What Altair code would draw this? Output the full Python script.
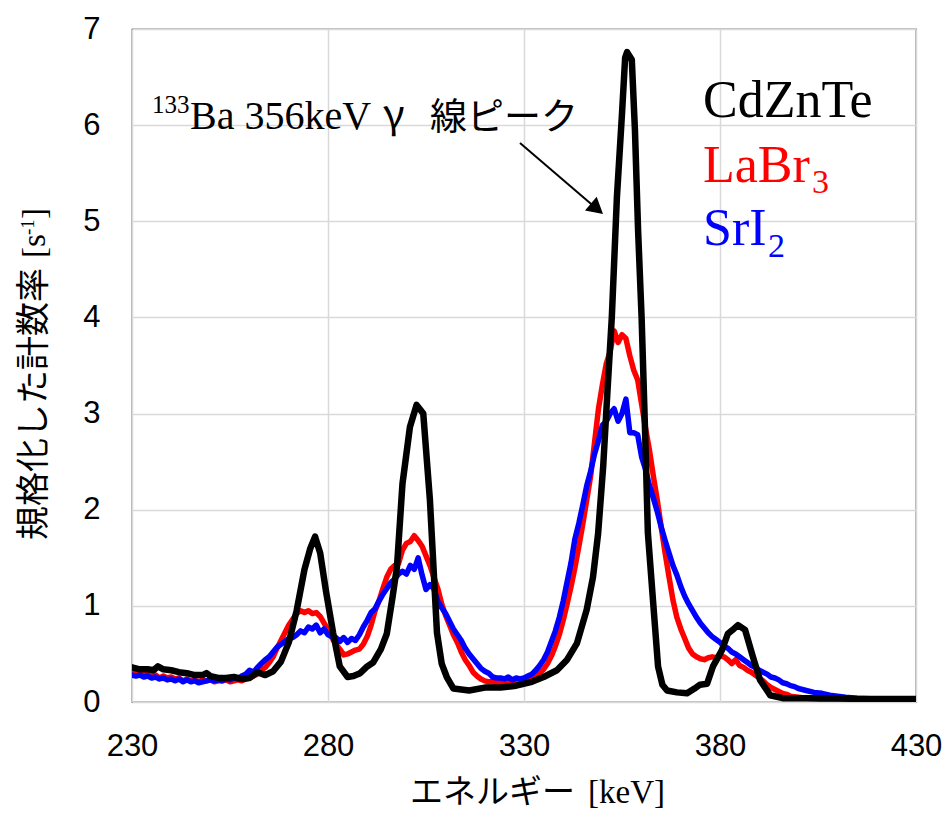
import altair as alt
import pandas as pd

# ---------------- data ----------------
# LaBr3 (red)
labr_energy = list(range(230, 399)) + [400, 402, 405, 410, 415, 420, 425, 430]
labr_rate = [
    0.30, 0.29, 0.31, 0.28, 0.29, 0.27, 0.28, 0.25, 0.27, 0.25,
    0.26, 0.24, 0.25, 0.22, 0.24, 0.22, 0.23, 0.21, 0.23, 0.22,
    0.23, 0.21, 0.22, 0.22, 0.23, 0.21, 0.22, 0.23, 0.22, 0.24,
    0.25, 0.27, 0.29, 0.33, 0.36, 0.41, 0.47, 0.56, 0.64, 0.72,
    0.80, 0.86, 0.92, 0.95, 0.93, 0.95, 0.92, 0.93, 0.89, 0.82,
    0.75, 0.67, 0.60, 0.55, 0.49, 0.50, 0.52, 0.54, 0.55, 0.60,
    0.68, 0.80, 0.95, 1.05, 1.18, 1.30, 1.38, 1.42, 1.44, 1.58,
    1.65, 1.67, 1.73, 1.68, 1.62, 1.52, 1.42, 1.30, 1.18, 1.02,
    0.90, 0.80, 0.70, 0.62, 0.52, 0.44, 0.38, 0.31, 0.27, 0.24,
    0.22, 0.21, 0.21, 0.20, 0.20, 0.21, 0.20, 0.21, 0.21, 0.22,
    0.22, 0.23, 0.24, 0.26, 0.30, 0.34, 0.40, 0.48, 0.58, 0.70,
    0.85, 1.02, 1.20, 1.40, 1.62, 1.85, 2.10, 2.35, 2.70, 3.05,
    3.30, 3.52, 3.65, 3.86, 3.74, 3.82, 3.78, 3.60, 3.45, 3.35,
    3.10, 2.85, 2.62, 2.35, 2.10, 1.82, 1.55, 1.30, 1.06, 0.88,
    0.76, 0.66, 0.56, 0.50, 0.47, 0.45, 0.44, 0.46, 0.47, 0.46,
    0.48, 0.47, 0.44, 0.40, 0.44, 0.38, 0.36, 0.33, 0.31, 0.28,
    0.25, 0.22, 0.18, 0.15, 0.13, 0.11, 0.09, 0.08, 0.06,
    0.05, 0.04, 0.03, 0.02, 0.02, 0.01, 0.01, 0.01,
]

# SrI2 (blue)
sri_energy = list(range(230, 400)) + [400, 402, 404, 406, 408, 410, 412, 415, 420, 425, 430]
sri_rate = [
    0.28, 0.27, 0.28, 0.26, 0.27, 0.25, 0.26, 0.24, 0.25, 0.23,
    0.24, 0.22, 0.24, 0.21, 0.23, 0.21, 0.22, 0.20, 0.21, 0.22,
    0.23, 0.22, 0.23, 0.22, 0.24, 0.23, 0.25, 0.24, 0.27, 0.29,
    0.33, 0.31, 0.36, 0.40, 0.44, 0.47, 0.52, 0.57, 0.60, 0.63,
    0.66, 0.67, 0.70, 0.74, 0.72, 0.78, 0.76, 0.80, 0.72, 0.76,
    0.70, 0.68, 0.67, 0.63, 0.67, 0.62, 0.66, 0.64, 0.70, 0.78,
    0.85, 0.93, 0.97, 1.05, 1.12, 1.18, 1.24, 1.28, 1.33, 1.36,
    1.33, 1.42, 1.38, 1.50, 1.32, 1.17, 1.22, 1.18, 1.05, 0.98,
    0.92, 0.84, 0.76, 0.70, 0.64, 0.56, 0.50, 0.45, 0.40, 0.35,
    0.32, 0.30, 0.26, 0.25, 0.25, 0.24, 0.26, 0.23, 0.25, 0.24,
    0.25, 0.27, 0.29, 0.33, 0.38, 0.44, 0.52, 0.63, 0.74, 0.88,
    1.05, 1.25, 1.45, 1.70, 1.86, 2.05, 2.25, 2.40, 2.58, 2.72,
    2.88, 2.92, 3.00, 3.05, 2.92, 3.00, 3.15, 2.80, 2.80, 2.78,
    2.55, 2.42, 2.25, 2.12, 1.98, 1.82, 1.68, 1.55, 1.42, 1.32,
    1.20, 1.10, 1.02, 0.95, 0.88, 0.82, 0.77, 0.72, 0.68, 0.65,
    0.62, 0.58, 0.56, 0.52, 0.50, 0.47, 0.44, 0.41, 0.38, 0.36,
    0.33, 0.31, 0.29, 0.26, 0.25, 0.23, 0.20, 0.19, 0.17, 0.16,
    0.14, 0.12, 0.10, 0.09, 0.07, 0.06, 0.05, 0.04, 0.03, 0.03, 0.03,
]

# CdZnTe (black)
czt_energy = [
    230, 232, 234, 235.5, 236.6, 238, 240, 242, 244, 246, 248, 249, 250, 252, 254,
    256, 258, 260, 262, 264, 266, 268, 270, 272, 274, 275.5, 276.7, 278, 279.5,
    281.3, 283, 285, 286.5, 288.2, 290, 291.5, 293.5, 295, 296.5, 297.6, 299,
    300.9, 302.6, 304.3, 306, 307.8, 309, 310.3, 312, 316, 320, 324, 328, 332,
    335, 338.4, 341, 343.5, 346, 347.6, 348.9, 350.2, 351.4, 352.4, 353.7, 355,
    355.8, 356.3, 357.5, 358.3, 359.1, 360.0, 360.9, 361.6, 362.9, 364.2, 365.3,
    366.5, 369, 371.6, 373.5, 374.9, 376.7, 378.2, 380.5, 382, 383.5, 384.6,
    386.4, 388.4, 390.2, 392.8, 396, 400, 405, 410, 415, 420, 425, 430,
]
czt_rate = [
    0.36, 0.34, 0.34, 0.33, 0.37, 0.34, 0.33, 0.31, 0.30, 0.28, 0.28, 0.30, 0.27, 0.25, 0.25,
    0.26, 0.24, 0.25, 0.31, 0.28, 0.32, 0.42, 0.62, 0.95, 1.38, 1.60, 1.72, 1.55, 1.15,
    0.72, 0.37, 0.26, 0.27, 0.30, 0.37, 0.41, 0.55, 0.71, 1.10, 1.41, 2.27,
    2.86, 3.09, 3.00, 2.10, 0.72, 0.40, 0.26, 0.14, 0.12, 0.15, 0.15, 0.17, 0.21,
    0.26, 0.33, 0.44, 0.61, 0.96, 1.30, 1.75, 2.45, 3.31, 4.00, 5.25, 6.12,
    6.70, 6.76, 6.68, 5.95, 4.91, 4.00, 2.80, 1.76, 1.06, 0.37, 0.18,
    0.12, 0.10, 0.09, 0.14, 0.18, 0.19, 0.37, 0.54, 0.71, 0.76, 0.80,
    0.75, 0.47, 0.23, 0.07, 0.04, 0.04, 0.04, 0.04, 0.03, 0.03, 0.03, 0.03,
]

# axis ticks
x_ticks = [230, 280, 330, 380, 430]
y_ticks = [0, 1, 2, 3, 4, 5, 6, 7]

# ---------------- chart ----------------
W, H = 784, 673

x_enc = alt.X(
    "E:Q",
    scale=alt.Scale(domain=[230, 430], nice=False, zero=False),
    axis=alt.Axis(
        values=x_ticks, title=None, labelFont="Liberation Sans", labelFontSize=31,
        labelColor="black", labelPadding=29, grid=True, gridColor="#d9d9d9",
        gridWidth=1.5, domain=False, ticks=False, labelFlush=False, format="d",
    ),
)
y_enc = alt.Y(
    "v:Q",
    scale=alt.Scale(domain=[0, 7], nice=False, zero=True),
    axis=alt.Axis(
        values=y_ticks, title=None, labelFont="Liberation Sans", labelFontSize=31,
        labelColor="black", labelPadding=32, grid=True, gridColor="#d9d9d9",
        gridWidth=1.5, domain=False, ticks=False, labelFlush=False, format="d",
    ),
)


def line_layer(energy, rate, color, width):
    df = pd.DataFrame({"E": energy, "v": rate})
    return alt.Chart(df).mark_line(
        color=color, strokeWidth=width, strokeJoin="round", strokeCap="round", clip=True
    ).encode(x=x_enc, y=y_enc)


dummy = pd.DataFrame({"t": [""]})


def txt(s, x, y, size, font, color="black", angle=None):
    kw = dict(align="left", baseline="alphabetic", font=font, fontSize=size, color=color)
    if angle is not None:
        kw["angle"] = angle
    return alt.Chart(pd.DataFrame({"t": [s]})).mark_text(**kw).encode(
        x=alt.value(x), y=alt.value(y), text="t:N"
    )


SERIF = "Liberation Serif"
CJK = "Noto Sans CJK JP"

layers = [
    line_layer(labr_energy, labr_rate, "#ff0000", 5.5),
    line_layer(sri_energy, sri_rate, "#0000ff", 5.5),
    line_layer(czt_energy, czt_rate, "#000000", 6.5),
    # annotation
    txt("133", 20, 84, 25, SERIF),
    txt("Ba 356keV", 58, 100, 40, SERIF),
    txt("γ", 251, 100, 40, CJK),
    txt("線ピーク", 298, 101, 37, CJK),
    alt.Chart(dummy).mark_rule(color="black", strokeWidth=2).encode(
        x=alt.value(388), y=alt.value(114), x2=alt.value(465), y2=alt.value(180)
    ),
    alt.Chart(dummy).mark_point(
        shape="M0,0L-1.6,-0.9L-1.6,0.9Z", filled=True, color="black",
        size=400, angle=40.5, opacity=1, strokeWidth=0,
    ).encode(x=alt.value(471), y=alt.value(185)),
    # legend texts
    txt("CdZnTe", 571, 88, 52, SERIF, "black"),
    txt("LaBr", 571, 153, 52, SERIF, "#ff0000"),
    txt("3", 680, 164, 34, SERIF, "#ff0000"),
    txt("SrI", 571, 216, 52, SERIF, "#0000ff"),
    txt("2", 636, 228, 34, SERIF, "#0000ff"),
    # x axis title
    txt("エネルギー", 278, 774, 33, CJK),
    txt("[keV]", 456, 774, 33, SERIF),
    # y axis title
    txt("規格化した計数率", -87, 511, 34, CJK, angle=270),
    txt("[s", -87, 229, 33, SERIF, angle=270),
    txt("-1", -98, 206, 19, SERIF, angle=270),
    txt("]", -87, 190, 33, SERIF, angle=270),
]

chart = alt.layer(*layers).properties(
    width=W,
    height=H,
    autosize=alt.AutoSizeParams(type="none"),
    padding={"left": 132, "top": 29, "right": 33, "bottom": 111},
    background="white",
).configure_view(stroke="black", strokeWidth=1.2)

chart.save("out.html", embed_options={"renderer": "svg", "actions": False})
